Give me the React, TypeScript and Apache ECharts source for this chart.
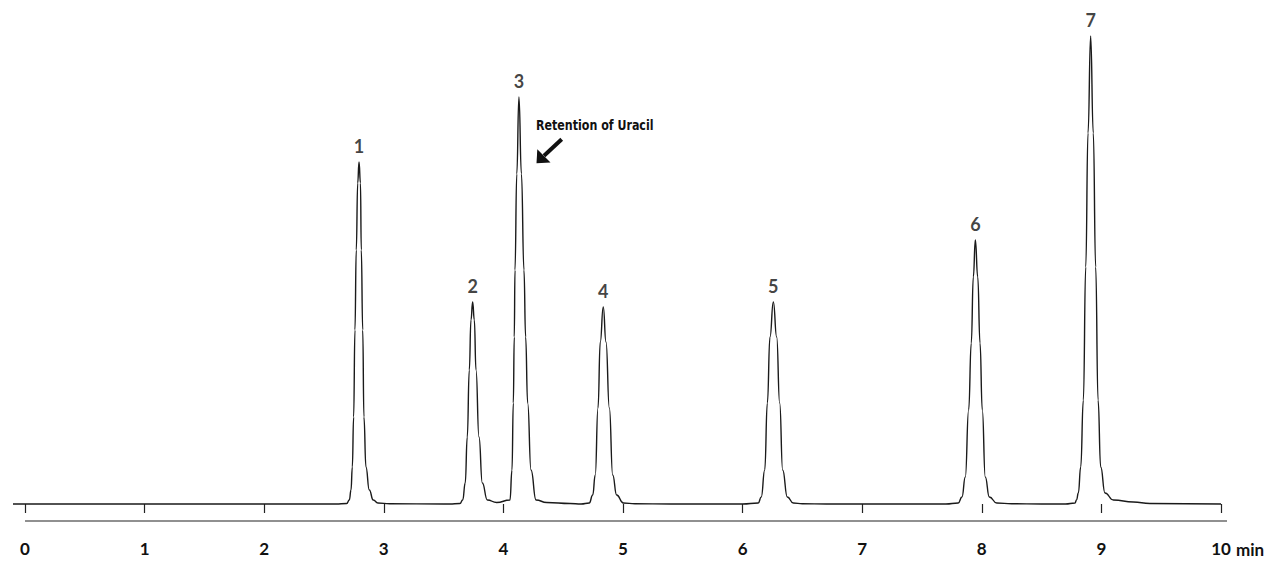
import { useEffect, useRef } from "react";
import * as echarts from "echarts";

// retention time (min) vs detector signal (baseline = 0)
const baselineStart = [[-0.1, 0], [2.6, 0]];
const peak1 = [[2.69, 0.5], [2.712, 4], [2.726, 14], [2.737, 37], [2.748, 87], [2.759, 174], [2.77, 254], [2.782, 321], [2.793, 342], [2.805, 321], [2.812, 254], [2.824, 174], [2.834, 87], [2.851, 37], [2.879, 14], [2.912, 4], [2.951, 1], [3.05, 0.3], [3.5, 0]];
const peak2and3 = [[3.55, 0], [3.637, 0.5], [3.66, 4], [3.681, 21], [3.698, 67], [3.715, 134], [3.729, 184], [3.743, 202], [3.757, 184], [3.771, 134], [3.796, 67], [3.824, 21], [3.866, 4], [3.944, 1.5], [4.055, 4], [4.072, 34], [4.083, 101], [4.091, 167], [4.097, 234], [4.112, 330], [4.13, 407], [4.151, 330], [4.172, 234], [4.186, 167], [4.203, 101], [4.231, 34], [4.273, 4], [4.362, 1.5], [4.557, 0.5], [4.65, 0]];
const peak4 = [[4.718, 1], [4.747, 9], [4.768, 29], [4.791, 96], [4.81, 162], [4.835, 197], [4.858, 162], [4.886, 96], [4.914, 29], [4.947, 9], [5.003, 1], [5.1, 0.3], [5.4, 0]];
const peak5 = [[6.0, 0], [6.131, 1], [6.156, 7], [6.185, 34], [6.207, 101], [6.229, 167], [6.257, 202], [6.285, 167], [6.31, 101], [6.335, 34], [6.374, 7], [6.424, 1], [6.5, 0.3], [6.7, 0]];
const peak6 = [[7.7, 0], [7.803, 1], [7.834, 7], [7.862, 27], [7.89, 94], [7.912, 161], [7.929, 227], [7.946, 264], [7.966, 227], [7.985, 161], [8.004, 94], [8.029, 27], [8.063, 7], [8.125, 1], [8.25, 0.3], [8.5, 0]];
const peak7 = [[8.7, 0], [8.779, 1], [8.792, 4], [8.807, 11], [8.827, 37], [8.849, 104], [8.869, 237], [8.888, 371], [8.91, 468], [8.932, 371], [8.952, 237], [8.972, 104], [8.994, 37], [9.03, 11], [9.1, 4], [9.267, 2], [9.406, 0.5], [10.0, 0]];

const peakNames = ["1", "2", "3", "4", "5", "6", "7"];
const apexTimes = [2.793, 3.743, 4.13, 4.835, 6.257, 7.946, 8.91];
const apexHeights = [342, 202, 407, 197, 202, 264, 468];

const tickValues = [0, 1, 2, 3, 4, 5, 6, 7, 8, 9, 10];
const note = "Retention of Uracil";

const FONT = "Lato, 'Noto Sans', sans-serif";

export default function App() {
  const chartRef = useRef<HTMLDivElement | null>(null);

  useEffect(() => {
    if (!chartRef.current) return;
    const chart = echarts.init(chartRef.current, null, { renderer: "svg" });

    const trace = [...baselineStart, ...peak1, ...peak2and3, ...peak4, ...peak5, ...peak6, ...peak7];

    chart.setOption({
      animation: false,
      grid: { left: 13, right: 53, top: 35, bottom: 48 },
      xAxis: {
        type: "value",
        min: -0.1,
        max: 10.05,
        axisLine: { show: false },
        splitLine: { show: false },
        axisTick: {
          show: true,
          customValues: tickValues,
          length: 9,
          lineStyle: { color: "#222", width: 1.2 },
        },
        axisLabel: {
          customValues: tickValues,
          margin: 19,
          fontSize: 17,
          fontWeight: "bold",
          fontFamily: FONT,
          color: "#111",
        },
      },
      yAxis: { type: "value", min: -17, max: 469, show: false },
      series: [
        {
          type: "line",
          data: trace,
          showSymbol: false,
          smooth: 0.5,
          smoothMonotone: "x",
          clip: false,
          lineStyle: { color: "#1a1a1a", width: 1.4 },
        },
        {
          type: "scatter",
          data: apexTimes.map((t, i) => [t, apexHeights[i], peakNames[i]]),
          symbolSize: 0,
          label: {
            show: true,
            position: "top",
            distance: 7,
            formatter: (p: any) => p.value[2],
            fontSize: 18,
            fontWeight: "bold",
            fontFamily: FONT,
            color: "#111",
          },
        },
      ],
    });

    const a0 = chart.convertToPixel({ gridIndex: 0 }, [0, -17]);
    const a1 = chart.convertToPixel({ gridIndex: 0 }, [10.05, -17]);
    const t10 = chart.convertToPixel({ gridIndex: 0 }, [10, -17]);

    chart.setOption({
      graphic: [
        {
          type: "line",
          shape: { x1: a0[0], y1: a0[1], x2: a1[0], y2: a1[1] },
          style: { stroke: "#222", lineWidth: 1.2 },
        },
        {
          type: "text",
          x: t10[0] + 15,
          y: t10[1] + 28,
          style: {
            text: "min",
            fill: "#111",
            font: `bold 17px ${FONT}`,
            verticalAlign: "middle",
          },
        },
        {
          type: "text",
          x: 536,
          y: 125.5,
          scaleX: 0.88,
          style: {
            text: note,
            fill: "#111",
            font: "bold 14px 'DejaVu Sans Condensed', sans-serif",
            verticalAlign: "middle",
          },
        },
        {
          type: "line",
          shape: { x1: 561.7, y1: 139.3, x2: 544, y2: 155.8 },
          style: { stroke: "#111", lineWidth: 4 },
        },
        {
          type: "polygon",
          shape: { points: [[536.5, 163.3], [537.3, 149.3], [550.5, 162.5]] },
          style: { fill: "#111" },
        },
      ],
    });

    const handleResize = () => chart.resize();
    window.addEventListener("resize", handleResize);
    return () => {
      window.removeEventListener("resize", handleResize);
      chart.dispose();
    };
  }, []);

  return (
    <div
      ref={chartRef}
      style={{ position: "fixed", left: 0, top: 0, width: "1280px", height: "569px", background: "#fff" }}
    />
  );
}
